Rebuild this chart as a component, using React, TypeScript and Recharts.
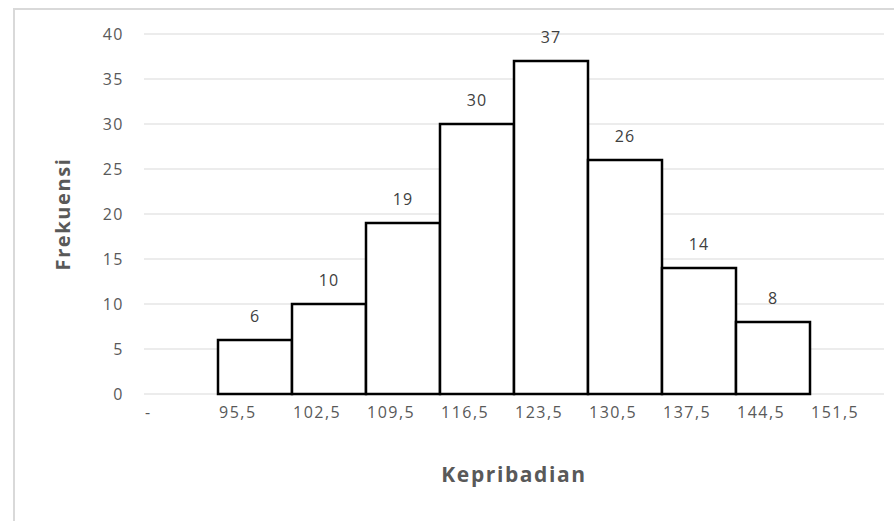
import { Bar, BarChart, CartesianGrid, LabelList, XAxis, YAxis } from 'recharts'

// Kepribadian histogram — class boundaries on the x axis, frequency per class
const categories = ['-', '95,5', '102,5', '109,5', '116,5', '123,5', '130,5', '137,5', '144,5', '151,5']
const frequencies = [null, 6, 10, 19, 30, 37, 26, 14, 8, null]
const yTicks = [0, 5, 10, 15, 20, 25, 30, 35, 40]

const data = categories.map((label, i) => ({ label, value: frequencies[i] }))

const FONT = '"Open Sans", "DejaVu Sans", sans-serif'
const TEXT_GREY = '#595959'

// Excel puts these labels at the left edge of each category, not the middle
function EdgeTick({ x, y, payload }: any) {
  return (
    <text
      x={x - 36}
      y={y}
      dy={24}
      textAnchor="start"
      fill={TEXT_GREY}
      fontFamily={FONT}
      fontSize={16}
      letterSpacing={1.5}
    >
      {payload.value}
    </text>
  )
}

export default function App() {
  return (
    <div style={{ position: 'fixed', left: 0, top: 0, width: 894, height: 521, overflow: 'hidden', background: '#fff' }}>
      <div
        style={{
          position: 'absolute',
          left: 13,
          top: 8,
          width: 900,
          height: 600,
          borderTop: '2px solid #d9d9d9',
          borderLeft: '2px solid #d9d9d9',
          boxSizing: 'border-box',
        }}
      />
      <div style={{ position: 'absolute', left: 0, top: 0 }}>
        <BarChart
          width={894}
          height={521}
          data={data}
          barCategoryGap={0}
          margin={{ top: 34, right: 10, left: 84, bottom: 87 }}
        >
          <CartesianGrid stroke="#d9d9d9" vertical={false} />
          <XAxis
            dataKey="label"
            height={40}
            axisLine={false}
            tickLine={false}
            tickSize={0}
            tickMargin={0}
            interval={0}
            tick={<EdgeTick />}
            label={{
              value: 'Kepribadian',
              position: 'bottom',
              offset: 33,
              style: { fill: TEXT_GREY, fontFamily: FONT, fontSize: 21, fontWeight: 700, letterSpacing: 1.6 },
            }}
          />
          <YAxis
            width={60}
            domain={[0, 40]}
            ticks={yTicks}
            axisLine={false}
            tickLine={false}
            tickSize={0}
            tickMargin={20}
            tick={{ fill: TEXT_GREY, fontFamily: FONT, fontSize: 16, letterSpacing: 1.5 }}
            label={{
              value: 'Frekuensi',
              position: 'left',
              angle: -90,
              offset: 21,
              style: { textAnchor: 'middle', fill: TEXT_GREY, fontFamily: FONT, fontSize: 20, fontWeight: 700, letterSpacing: 1.6 },
            }}
          />
          <Bar dataKey="value" fill="#ffffff" stroke="#000000" strokeWidth={2.5} isAnimationActive={false}>
            <LabelList
              dataKey="value"
              position="top"
              offset={18}
              fill="#404040"
              fontFamily={FONT}
              fontSize={16}
              letterSpacing={1}
            />
          </Bar>
        </BarChart>
      </div>
    </div>
  )
}
